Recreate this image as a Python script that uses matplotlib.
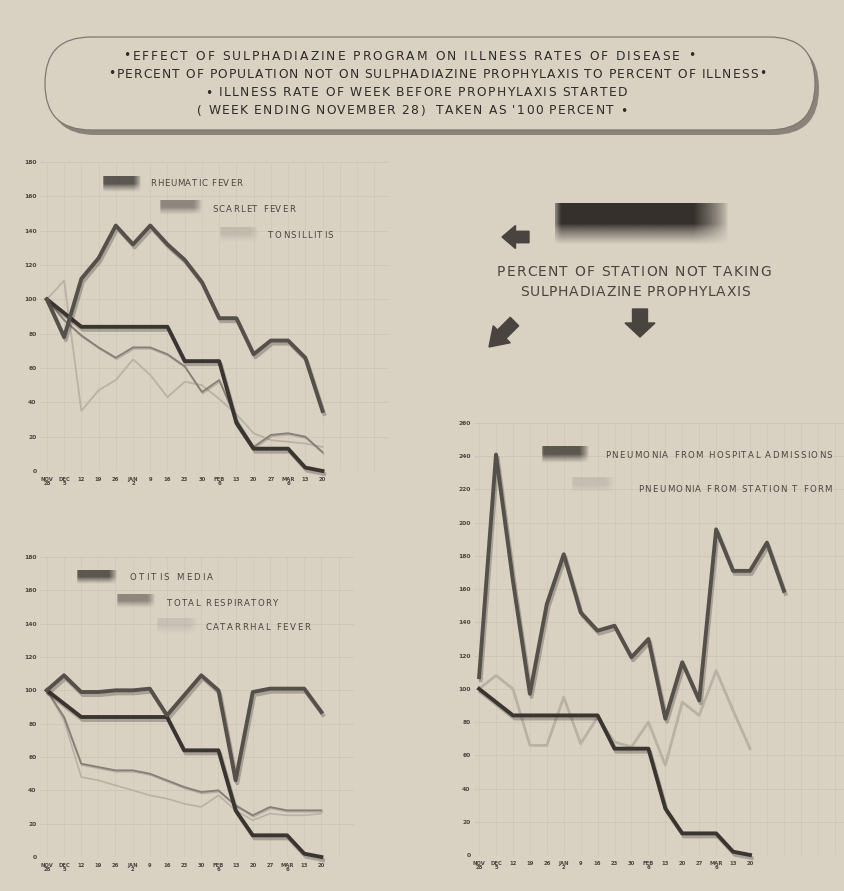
import matplotlib
matplotlib.use('Agg')
import matplotlib.pyplot as plt
import numpy as np
from matplotlib.patches import FancyBboxPatch, Polygon
import matplotlib.patheffects as pe
from matplotlib.colors import to_rgb
from matplotlib.font_manager import FontProperties

# ---------------- data ----------------
weeks = ["NOV\n28", "DEC\n5", "12", "19", "26", "JAN\n2", "9", "16", "23", "30",
         "FEB\n6", "13", "20", "27", "MAR\n6", "13", "20"]

station_pct = [100, 92, 84, 84, 84, 84, 84, 84, 64, 64, 64, 28, 13, 13, 13, 2, 0]

rheumatic_fever = [100, 78, 112, 124, 143, 132, 143, 132, 123, 110, 89, 89, 68, 76, 76, 66, 35]
scarlet_fever = [100, 88, 79, 72, 66, 72, 72, 68, 61, 46, 53, 30, 14, 21, 22, 20, 11]
tonsillitis = [100, 111, 35, 47, 53, 65, 56, 43, 52, 50, 42, 33, 22, 18, 17, 16, 14]

otitis_media = [100, 109, 99, 99, 100, 100, 101, 85, 97, 109, 100, 46, 99, 101, 101, 101, 87]
total_respiratory = [100, 84, 56, 54, 52, 52, 50, 46, 42, 39, 40, 31, 25, 30, 28, 28, 28]
catarrhal_fever = [100, 82, 48, 46, 43, 40, 37, 35, 32, 30, 37, 28, 22, 26, 25, 25, 26]

pneu_hospital = [107, 241, 165, 97, 151, 181, 146, 135, 138, 119, 130, 82, 116, 93,
                 196, 171, 171, 188, 159]
pneu_tform = [100, 108, 100, 66, 66, 95, 67, 83, 68, 65, 80, 54, 92, 84, 111, 87, 64]

title_lines = [
    "\u2022EFFECT OF SULPHADIAZINE PROGRAM ON ILLNESS RATES OF DISEASE \u2022",
    "\u2022PERCENT OF POPULATION NOT ON SULPHADIAZINE PROPHYLAXIS TO PERCENT OF ILLNESS\u2022",
    "\u2022 ILLNESS RATE OF WEEK BEFORE PROPHYLAXIS STARTED",
    "( WEEK ENDING NOVEMBER 28)  TAKEN AS '100 PERCENT \u2022",
]
station_label = ["PERCENT OF STATION NOT TAKING", "SULPHADIAZINE PROPHYLAXIS"]

# ---------------- style ----------------
BG = '#d9d2c3'
GRID = '#cbc3b3'
TXT = '#4a443e'
C_STATION = '#3b3531'
C_DARK = '#55504a'
C_MED = '#877f76'
C_LIGHT = '#bab1a4'
FONT = 'DejaVu Sans'

W, H = 844, 891
fig = plt.figure(figsize=(W / 100, H / 100), dpi=100, facecolor=BG)
renderer = fig.canvas.get_renderer()


def ax_px(x0, y0, x1, y1):
    return fig.add_axes([x0 / W, 1 - y1 / H, (x1 - x0) / W, (y1 - y0) / H])


def shadow(off=(1.2, -2.2), a=0.28):
    return [pe.SimpleLineShadow(offset=off, shadow_color='#2a2520', alpha=a), pe.Normal()]


def setup(ax, ymax, xlim):
    ax.set_facecolor('none')
    ax.set_xlim(*xlim)
    ax.set_ylim(0, ymax)
    ax.set_yticks(range(0, ymax + 1, 20))
    ax.set_yticklabels([str(v) for v in range(0, ymax + 1, 20)], fontsize=4.3,
                       color=TXT, family=FONT, fontweight='bold')
    ax.set_xticks(range(len(weeks)))
    ax.set_xticklabels(weeks, fontsize=3.8, color=TXT, family=FONT,
                       fontweight='bold', linespacing=0.95)
    ax.tick_params(axis='x', length=0, pad=4)
    ax.tick_params(axis='y', length=0, pad=2.5)
    for s in ax.spines.values():
        s.set_visible(False)
    for yy in range(0, ymax + 1, 20):
        ax.axhline(yy, color=GRID, lw=0.55, zorder=0)
    for xx in range(int(np.ceil(xlim[0])), int(np.floor(xlim[1])) + 1):
        ax.axvline(xx, color=GRID, lw=0.4, zorder=0)


x17 = np.arange(len(weeks))

# ---- top-left chart ----
ax1 = ax_px(40, 162, 388, 471)
setup(ax1, 180, (-0.4, 19.8))
ax1.plot(x17, tonsillitis, color=C_LIGHT, lw=1.3, clip_on=False, zorder=2)
ax1.plot(x17, scarlet_fever, color=C_MED, lw=1.3, clip_on=False, zorder=3,
         path_effects=shadow((0.6, -1.0), 0.2))
ax1.plot(x17, station_pct, color=C_STATION, lw=2.8, clip_on=False, zorder=4,
         path_effects=shadow())
ax1.plot(x17, rheumatic_fever, color=C_DARK, lw=2.8, clip_on=False, zorder=4,
         path_effects=shadow())

# ---- bottom-left chart ----
ax2 = ax_px(40, 557, 354, 857)
setup(ax2, 180, (-0.4, 17.9))
ax2.plot(x17, catarrhal_fever, color=C_LIGHT, lw=1.2, clip_on=False, zorder=2)
ax2.plot(x17, total_respiratory, color=C_MED, lw=1.3, clip_on=False, zorder=3,
         path_effects=shadow((0.6, -1.0), 0.2))
ax2.plot(x17, station_pct, color=C_STATION, lw=2.8, clip_on=False, zorder=4,
         path_effects=shadow())
ax2.plot(x17, otitis_media, color=C_DARK, lw=2.8, clip_on=False, zorder=4,
         path_effects=shadow())

# ---- right chart ----
ax3 = ax_px(474, 423, 844, 855)
setup(ax3, 260, (-0.3, 21.55))
ax3.plot(x17, pneu_tform, color=C_LIGHT, lw=2.0, clip_on=False, zorder=2)
ax3.plot(x17, station_pct, color=C_STATION, lw=2.8, clip_on=False, zorder=4,
         path_effects=shadow())
ax3.plot(np.arange(len(pneu_hospital)), pneu_hospital, color=C_DARK, lw=2.8,
         clip_on=False, zorder=4, path_effects=shadow())

# ---------------- overlay (pixel coordinates) ----------------
ov = fig.add_axes([0, 0, 1, 1], zorder=10)
ov.patch.set_alpha(0)
ov.axis('off')
ov.set_xlim(0, W)
ov.set_ylim(H, 0)


def spaced_text(x0, x1, y, s, size, color='#3f3a35', weight='normal', z=7):
    """Draw text letter-spaced so it spans from x0 to x1 (pixels)."""
    fp = FontProperties(family=FONT, size=size, weight=weight)
    widths = [renderer.get_text_width_height_descent(ch, fp, ismath=False)[0]
              for ch in s]
    total = sum(widths)
    track = (x1 - x0 - total) / max(len(s) - 1, 1)
    x = x0
    for ch, w in zip(s, widths):
        if ch != ' ':
            ov.text(x, y, ch, ha='left', va='center', fontproperties=fp,
                    color=color, zorder=z)
        x += w + track


def grad_bar(x0, y0, x1, y1, color, strength=1.0):
    h, w = 40, 120
    arr = np.zeros((h, w, 4))
    arr[..., :3] = to_rgb(color)
    ys = np.linspace(0, 1, h)[:, None]
    xs = np.linspace(0, 1, w)[None, :]
    a_v = np.clip(1 - np.clip((ys - 0.5) / 0.5, 0, 1) ** 0.8, 0, 1)
    a_h = np.clip((1 - xs) / 0.2, 0, 1) ** 0.7 * np.clip(xs / 0.06 + 0.5, 0, 1)
    arr[..., 3] = np.clip(a_v * a_h * strength, 0, 1)
    ov.imshow(arr, extent=(x0, x1, y1, y0), interpolation='bilinear',
              aspect='auto', zorder=6)


def arrow(tx, ty, angle_deg, length, width, color='#4a4440'):
    d = np.array([np.cos(np.radians(angle_deg)), np.sin(np.radians(angle_deg))])
    n = np.array([-d[1], d[0]])
    tip = np.array([tx, ty])
    base = tip - d * length * 0.5
    tail = tip - d * length
    pts = [tip,
           base + n * width / 2, base + n * width / 4,
           tail + n * width / 4, tail - n * width / 4,
           base - n * width / 4, base - n * width / 2]
    ov.add_patch(Polygon(pts, closed=True, color=color, zorder=7))


# title pill
ov.add_patch(FancyBboxPatch((49, 42), 770, 93, boxstyle="round,pad=0,rounding_size=46",
                            facecolor='#8a8379', edgecolor='none', zorder=1))
ov.add_patch(FancyBboxPatch((45, 37), 770, 93, boxstyle="round,pad=0,rounding_size=46",
                            facecolor=BG, edgecolor='#7f786f', lw=0.9, zorder=2))
title_span = [(123, 695, 56), (108, 766, 74), (205, 627, 93), (197, 627, 111)]
for t, (xa, xb, yy) in zip(title_lines, title_span):
    spaced_text(xa, xb, yy, t, 8.8, color='#2e2a26', z=3)

# central legend for station percentage
grad_bar(555, 203, 729, 245, '#35302c', 1.0)
spaced_text(497, 771, 272, station_label[0], 10.0, color='#4a443e')
spaced_text(520, 750, 292, station_label[1], 10.0, color='#4a443e')
arrow(502, 237, 180, 27, 23)
arrow(640, 337, 90, 28, 30)
arrow(489, 347, 135, 36, 24)

# chart legends
legend_items = [
    (103, 176, 141, 192, C_DARK, 0.95, "RHEUMATIC FEVER", 150, 242, 184),
    (160, 200, 202, 215, C_MED, 0.9, "SCARLET FEVER", 212, 295, 210),
    (220, 227, 258, 242, C_LIGHT, 0.7, "TONSILLITIS", 268, 333, 236),
    (77, 570, 117, 584, C_DARK, 0.95, "OTITIS MEDIA", 130, 213, 578),
    (117, 594, 155, 608, C_MED, 0.9, "TOTAL RESPIRATORY", 167, 278, 603),
    (157, 618, 197, 634, C_LIGHT, 0.5, "CATARRHAL FEVER", 205, 310, 628),
    (542, 446, 589, 463, C_DARK, 0.95, "PNEUMONIA FROM HOSPITAL ADMISSIONS", 605, 832, 455),
    (572, 477, 614, 493, C_LIGHT, 0.6, "PNEUMONIA FROM STATION T FORM", 638, 832, 489),
]
for x0, y0, x1, y1, c, s, lab, ta, tb, ty in legend_items:
    grad_bar(x0, y0, x1, y1, c, s)
    spaced_text(ta, tb, ty, lab, 6.2, color='#4a443e')

fig.savefig('out.png', dpi=100, facecolor=BG)
